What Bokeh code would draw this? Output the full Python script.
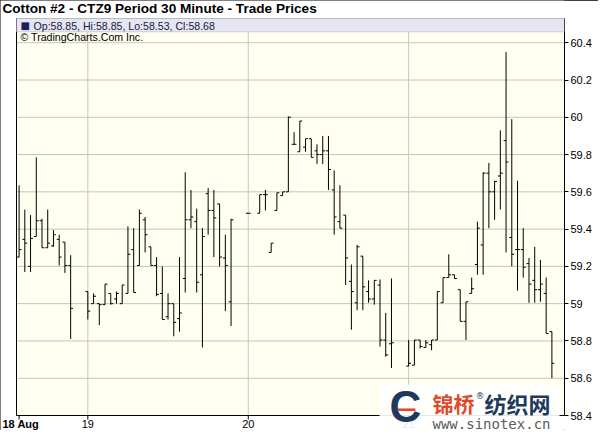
from bokeh.plotting import figure
from bokeh.models import Range1d, FixedTicker, Label, BoxAnnotation, ColumnDataSource, NumeralTickFormatter
from bokeh.embed import file_html
from bokeh.resources import INLINE

# ---- data (30-minute bars, slot index = bar position on the time axis) ----
slots = [0, 1, 2, 3, 4, 5, 6, 7, 8, 9,
         12, 13, 14, 15, 16, 17, 18, 19, 20, 21, 22, 23, 24, 25, 26, 27, 28, 29, 30, 31, 32, 33, 34, 35, 36, 37,
         40, 42, 43, 44, 45, 46, 47, 48, 49, 50, 51, 52, 53, 54, 55, 56, 57, 58, 59, 60, 61, 62, 63, 64, 65,
         68, 69, 70, 71, 72, 73, 74, 75, 76, 77, 78, 79, 80, 81, 82, 83, 84, 85, 86, 87, 88, 89, 90, 91, 92, 93]
opens = [59.25, 59.345, 59.2, 59.36, 59.445, 59.3, 59.31, 59.345, 59.33, 59.205,
         59.065, 59.0, 59.0, 58.995, 59.055, 59.025, 59.0, 59.055, 59.29, 59.205, 59.45, 59.305, 59.205, 59.055,
         58.93, 59.0, 58.92, 59.135, 59.45, 59.44, 59.155, 59.59, 59.5, 59.535, 59.245, 59.01,
         59.485, 59.485, 59.585, 59.275, 59.5, 59.58, 59.6, 59.855, 59.815, 59.84, 59.885, 59.82, 59.8, 59.82,
         59.61, 59.44, 59.475, 59.12, 59.005, 59.255, 59.065, 59.025, 59.1, 58.805, 58.785,
         58.665, 58.67, 58.805, 58.765, 58.78, 58.805, 59.005, 59.14, 59.155, 59.075, 58.905, 59.055, 59.21,
         59.315, 59.7, 59.6, 59.685, 59.875, 59.355, 59.29, 59.29, 59.215, 59.125, 59.075, 59.055, 58.85]
highs = [59.635, 59.505, 59.475, 59.785, 59.455, 59.505, 59.395, 59.37, 59.33, 59.26,
         59.065, 59.055, 59.0, 59.105, 59.055, 59.065, 59.1, 59.415, 59.405, 59.505, 59.465, 59.305, 59.25, 59.2,
         59.055, 59.0, 59.25, 59.705, 59.61, 59.51, 59.405, 59.62, 59.61, 59.535, 59.37, 59.455,
         59.485, 59.585, 59.61, 59.325, 59.595, 59.6, 60.005, 59.92, 59.98, 59.885, 59.885, 59.855, 59.9, 59.9,
         59.715, 59.635, 59.475, 59.21, 59.315, 59.255, 59.125, 59.125, 59.13, 58.95, 59.135,
         58.805, 58.805, 58.805, 58.805, 58.805, 59.065, 59.14, 59.265, 59.155, 59.075, 59.01, 59.14, 59.44,
         59.705, 59.755, 59.66, 59.93, 60.35, 59.99, 59.66, 59.405, 59.245, 59.305, 59.235, 59.14, 58.85]
lows = [59.25, 59.17, 59.17, 59.36, 59.3, 59.3, 59.305, 59.205, 59.165, 58.81,
        58.915, 59.0, 58.885, 58.995, 58.995, 59.0, 59.0, 59.055, 59.06, 59.205, 59.275, 59.205, 59.04, 58.915,
        58.915, 58.825, 58.85, 59.06, 59.405, 59.06, 58.765, 59.37, 59.25, 59.2, 58.96, 58.88,
        59.485, 59.485, 59.5, 59.275, 59.5, 59.58, 59.6, 59.855, 59.815, 59.815, 59.785, 59.75, 59.75, 59.61,
        59.37, 59.405, 59.1, 58.86, 58.965, 58.965, 59.005, 58.995, 58.77, 58.715, 58.655,
        58.665, 58.67, 58.76, 58.765, 58.75, 58.805, 59.005, 59.14, 59.135, 58.905, 58.805, 59.055, 59.155,
        59.155, 59.405, 59.45, 59.505, 59.275, 59.2, 59.07, 59.14, 59.005, 59.005, 59.01, 58.84, 58.6]
closes = [59.29, 59.325, 59.35, 59.445, 59.3, 59.325, 59.37, 59.25, 59.205, 58.975,
          58.96, 59.04, 58.995, 59.105, 59.0, 59.055, 59.1, 59.265, 59.06, 59.485, 59.37, 59.205, 59.05, 58.915,
          59.0, 58.9, 58.95, 59.45, 59.465, 59.115, 59.36, 59.5, 59.46, 59.25, 59.205, 59.45,
          59.485, 59.585, 59.585, 59.325, 59.595, 59.6, 60.0, 59.855, 59.98, 59.885, 59.785, 59.8, 59.82, 59.72,
          59.465, 59.405, 59.245, 59.065, 59.305, 59.09, 59.025, 59.125, 58.805, 58.725, 58.79,
          58.68, 58.805, 58.77, 58.79, 58.805, 59.065, 59.14, 59.155, 59.135, 58.905, 59.01, 59.08, 59.405,
          59.7, 59.6, 59.655, 59.7, 59.76, 59.265, 59.29, 59.195, 59.105, 59.075, 59.105, 58.84, 58.68]

day_ticks = [0, 12, 40, 68]
day_labels = ["18 Aug", "19", "20", "21"]
price_ticks = [58.4, 58.6, 58.8, 59.0, 59.2, 59.4, 59.6, 59.8, 60.0, 60.2, 60.4]
title_text = "Cotton #2 - CTZ9 Period 30 Minute - Trade Prices"
legend_names = ["Op", "Hi", "Lo", "Cl"]
legend_vals = [58.85, 58.85, 58.53, 58.68]
copyright_text = "\u00a9 TradingCharts.Com Inc."

# ---- layout (pixels) ----
X0, X1 = -0.45, 95.2          # plot box extent in slots
Y0, Y1 = 58.4, 60.53          # plot box extent in price
FIG_W, FIG_H = 598, 430
RIGHT_PANEL = 34
FRAME_W = FIG_W - RIGHT_PANEL
BOX_L, BOX_T, BOX_B = 16, 18, 415
kx = (FRAME_W - BOX_L) / (X1 - X0)
ky = (BOX_B - BOX_T) / (Y1 - Y0)
TICK = 0.42

src = ColumnDataSource(dict(
    x=slots, o=opens, h=highs, l=lows, c=closes,
    xl=[s - TICK for s in slots], xr=[s + TICK for s in slots]))

p = figure(width=FIG_W, height=FIG_H, output_backend="svg", toolbar_location=None,
           x_range=Range1d(X0 - BOX_L / kx, X1),
           y_range=Range1d(Y0 - (FIG_H - BOX_B) / ky, Y1 + BOX_T / ky),
           x_axis_location=None, y_axis_location="right",
           min_border_left=0, min_border_right=RIGHT_PANEL, min_border_top=0, min_border_bottom=0,
           background_fill_color="white", border_fill_color="white")
p.styles = {"outline": "1px solid black", "outline-offset": "-1px"}
p.outline_line_color = None
p.grid.visible = False

# plot box
p.add_layout(BoxAnnotation(left=X0, right=X1, bottom=Y0, top=Y1, fill_color="#FFFFF0", fill_alpha=1.0,
                           line_color="black", line_width=1, level="underlay"))

# grid lines
GRID = "#C4C4C4"
p.segment(x0=[X0] * len(price_ticks), x1=[X1] * len(price_ticks), y0=price_ticks, y1=price_ticks,
          line_color=GRID, line_width=1)
p.segment(x0=day_ticks[1:], x1=day_ticks[1:], y0=[Y0] * 3, y1=[Y1] * 3, line_color=GRID, line_width=1)

# y axis (right)
ya = p.yaxis[0]
ya.ticker = FixedTicker(ticks=price_ticks)
ya.bounds = (Y0, Y1)
ya.formatter = NumeralTickFormatter(format="0.[0]")
ya.major_label_text_font = "Liberation Sans"
ya.major_label_text_font_size = "11px"
ya.major_label_text_color = "black"
ya.major_tick_out = 4
ya.major_tick_in = 0
ya.minor_tick_out = 0
ya.minor_tick_in = 0
ya.major_label_standoff = 2
ya.axis_line_color = "black"

# x axis (drawn in the frame so that the bold first label can sit at the left edge)
p.segment(x0=X0, y0=Y0, x1=X1, y1=Y0, line_color="black", line_width=1)
p.segment(x0=X0, y0=Y0, x1=X0, y1=Y1, line_color="black", line_width=1)
p.segment(x0=day_ticks, x1=day_ticks, y0=[Y0] * 4, y1=[Y0 - 4 / ky] * 4, line_color="black", line_width=1)
for t, lab in zip(day_ticks[1:], day_labels[1:]):
    p.add_layout(Label(x=t, y=Y0, y_offset=-8, text=lab, text_color="black", text_font="Liberation Sans",
                       text_font_size="11px", text_align="center", text_baseline="middle"))
p.add_layout(Label(x=X0, y=Y0, x_offset=-14, y_offset=-8, text=day_labels[0], text_color="black",
                   text_font="Liberation Sans", text_font_size="11px", text_font_style="bold",
                   text_baseline="middle", text_align="left"))

# OHLC bars
p.segment(x0="x", y0="l", x1="x", y1="h", source=src, line_color="black", line_width=1)
p.segment(x0="xl", y0="o", x1="x", y1="o", source=src, line_color="black", line_width=1)
p.segment(x0="x", y0="c", x1="xr", y1="c", source=src, line_color="black", line_width=1)

# title
p.add_layout(Label(x=X0, y=Y1, x_offset=-14, y_offset=10, text=title_text, text_color="black",
                   text_font="Liberation Sans", text_font_size="13.6px", text_font_style="bold",
                   text_baseline="middle", text_align="left"))

# legend header
p.add_layout(BoxAnnotation(left=X0, right=X1, bottom=60.458, top=Y1, fill_color="#E6E6F2", fill_alpha=1.0,
                           line_color="#8A8A9A", line_width=1))
p.add_layout(Label(x=X0, y=Y1, x_offset=4, y_offset=-7, text="\u25a0", text_color="#1E1E5A",
                   text_font="DejaVu Sans", text_font_size="10px", text_baseline="middle"))
legend_text = ", ".join(f"{n}:{v:.2f}" for n, v in zip(legend_names, legend_vals))
p.add_layout(Label(x=X0, y=Y1, x_offset=17, y_offset=-7, text=legend_text, text_color="#1A1A3A",
                   text_font="Liberation Sans", text_font_size="10.6px", text_baseline="middle"))
p.add_layout(Label(x=X0, y=Y1, x_offset=4, y_offset=-18, text=copyright_text, text_color="black",
                   text_font="Liberation Sans", text_font_size="10.6px", text_baseline="middle"))

# watermark
p.add_layout(Label(x=X1, y=Y0, x_offset=-95, y_offset=5, text="\u3000" * 5, text_color="white",
                   text_font="Noto Sans CJK SC", text_font_size="36px", text_align="center",
                   text_baseline="middle", background_fill_color="white", background_fill_alpha=0.9))
p.add_layout(Label(x=X1, y=Y0, x_offset=-159, y_offset=9, text="C", text_color="#1D3A5C",
                   text_font="Liberation Sans", text_font_size="44px", text_font_style="bold",
                   text_align="center", text_baseline="middle"))
p.add_layout(Label(x=X1, y=Y0, x_offset=-158, y_offset=8, text="\u2014", text_color="#E2492C",
                   text_font="DejaVu Sans", text_font_size="20px", text_font_style="bold",
                   text_align="center", text_baseline="middle"))
p.add_layout(Label(x=X1, y=Y0, x_offset=-132, y_offset=13, text="锦桥", text_color="#E4482B",
                   text_font="Noto Sans CJK SC", text_font_size="21px", text_font_style="bold",
                   text_align="left", text_baseline="middle"))
p.add_layout(Label(x=X1, y=Y0, x_offset=-89, y_offset=20, text="\u00ae", text_color="#1D3A5C",
                   text_font="DejaVu Sans", text_font_size="9px",
                   text_align="left", text_baseline="middle"))
p.add_layout(Label(x=X1, y=Y0, x_offset=-80, y_offset=13, text="纺织网", text_color="#1D3A5C",
                   text_font="Noto Sans CJK SC", text_font_size="22px", text_font_style="bold",
                   text_align="left", text_baseline="middle"))
p.add_layout(Label(x=X1, y=Y0, x_offset=-132, y_offset=-8, text="www.sinotex.cn", text_color="#5A5A5A",
                   text_font="DejaVu Sans Mono", text_font_size="14px",
                   text_align="left", text_baseline="middle"))

open("out.html", "w").write(file_html(p, INLINE))
